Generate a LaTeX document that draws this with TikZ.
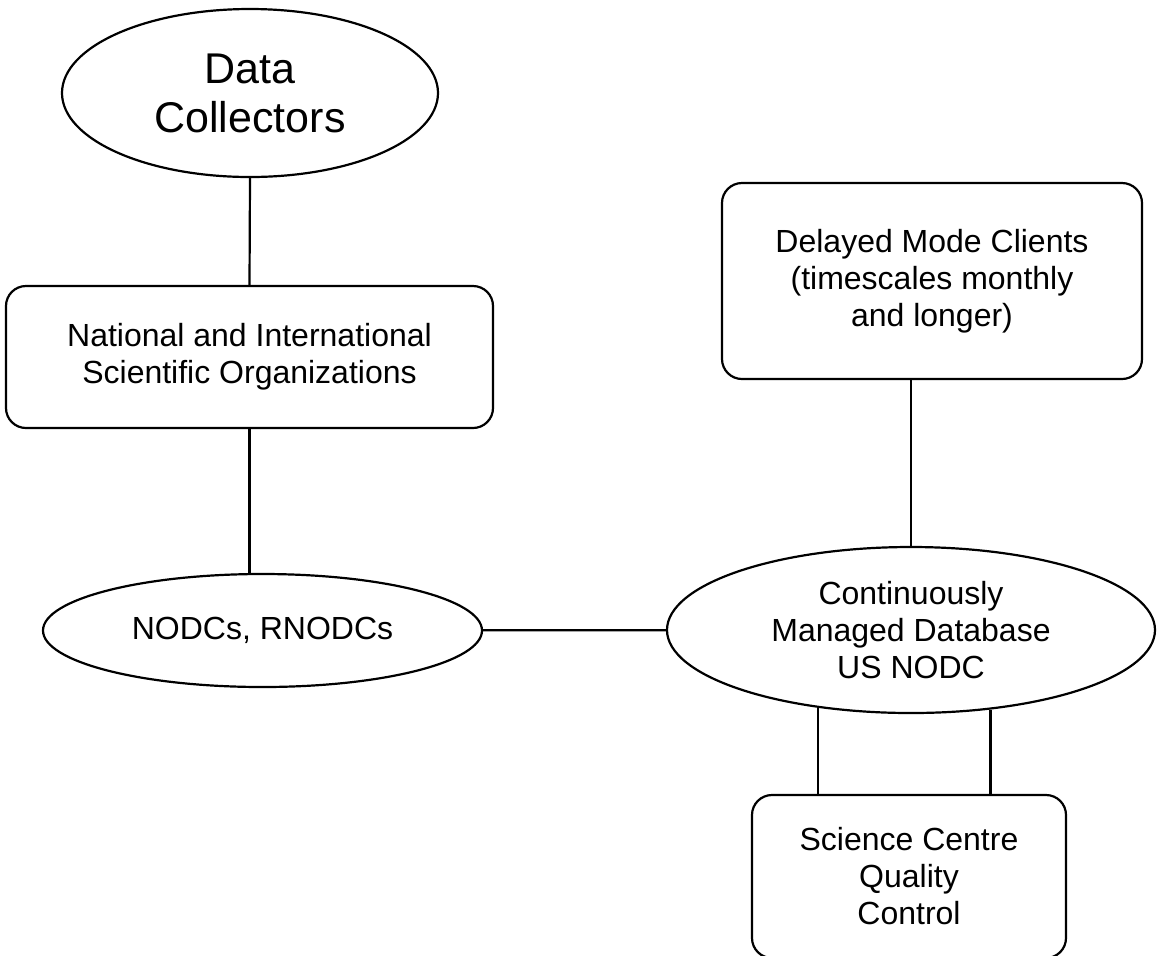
\documentclass[tikz,border=0pt]{standalone}
\usepackage{fontspec}
\setmainfont{Liberation Sans}
\usetikzlibrary{shapes.geometric}

\begin{document}
\begin{tikzpicture}[x=0.5pt, y=-0.5pt, line width=1.1pt,
		blob/.style={draw, ellipse, inner sep=0pt, align=center, font=\fontsize{16}{18.5}\selectfont},
		roundbox/.style={draw, rectangle, rounded corners=10pt, inner sep=0pt, align=center, font=\fontsize{16}{18.5}\selectfont}]
	\useasboundingbox (0,0) rectangle (1157,955);
	
	% left column
	\node[blob, minimum width=188pt, minimum height=84pt, font=\fontsize{21.5}{24.5}\selectfont] (dc) at (250,93) {Data\\Collectors};
	\node[roundbox, minimum width=243.5pt, minimum height=71pt] (nat) at (249.5,357) {National and International\\Scientific Organizations};
	\node[blob, minimum width=219.5pt, minimum height=56.5pt] (nodc) at (262.5,630.5) {NODCs, RNODCs};
	
	% right column
	\node[roundbox, minimum width=210pt, minimum height=98pt] (dmc) at (932,281) {Delayed Mode Clients\\(timescales monthly\\and longer)};
	\node[blob, minimum width=244pt, minimum height=83pt] (cmd) at (911,630) {Continuously\\Managed Database\\US NODC};
	\node[roundbox, minimum width=157pt, minimum height=81.5pt] (sqc) at (909,876.5) {Science Centre\\Quality\\Control};
	
	\draw (dc.south) -- (nat.north);
	\draw (nat.south) -- (nat.south |- nodc.north);
	\draw (nodc) -- (cmd);
	\draw (cmd.north) -- (cmd.north |- dmc.south);
	\draw (cmd.220) -- (cmd.220 |- sqc.north);
	\draw (cmd.315) -- (cmd.315 |- sqc.north);
\end{tikzpicture}
\end{document}
